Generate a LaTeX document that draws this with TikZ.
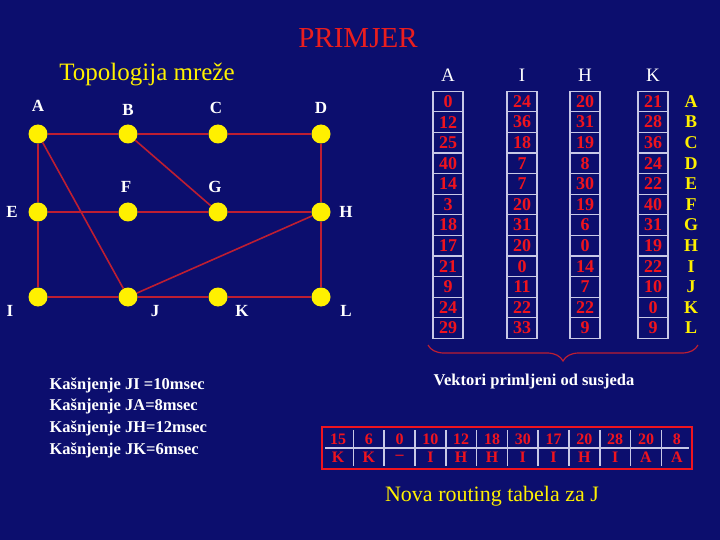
\documentclass[tikz,border=0pt]{standalone}
\usepackage{fontspec}
\setmainfont{Liberation Serif}
\usetikzlibrary{decorations.pathreplacing}
\definecolor{bg}{RGB}{12,14,110}
\definecolor{lnk}{RGB}{190,30,50}
\definecolor{ttl}{RGB}{235,30,30}
\definecolor{yel}{RGB}{255,240,0}
\definecolor{cellc}{RGB}{200,200,230}
\definecolor{num}{RGB}{240,20,30}
\tikzset{
 dot/.style={circle,fill=yel,minimum size=19pt,inner sep=0pt},
 lab/.style={text=white,font=\fontsize{17}{19}\selectfont\bfseries},
 conn/.style={draw=lnk,line width=1.6pt},
 cell/.style={draw=cellc,line width=1.2pt,minimum width=30pt,minimum height=20.6pt,inner sep=0pt,text=num,font=\fontsize{18}{20}\selectfont\bfseries},
 rowl/.style={text=yel,font=\fontsize{18}{20}\selectfont\bfseries},
 hdr/.style={text=white,font=\fontsize{19}{21}\selectfont},
 bcell/.style={minimum width=30.8pt,minimum height=18pt,inner sep=0pt,text=num,font=\fontsize{16}{18}\selectfont\bfseries}
}
\begin{document}
\begin{tikzpicture}[x=1pt,y=-1pt]
\fill[bg] (0,0) rectangle (720,540);
\useasboundingbox (0,0) rectangle (720,540);
\node[text=ttl,font=\fontsize{29}{31}\selectfont] (title) at (358,38) {PRIMJER};
\node[text=yel,font=\fontsize{25}{27}\selectfont] (topo) at (147,75) {Topologija mreže};
% graph
\foreach \n/\x/\y in {A/38/134,B/128/134,C/218/134,D/321/134,E/38/212,F/128/212,G/218/212,H/321/212,I/38/297,J/128/297,K/218/297,L/321/297}
  \node[dot] (\n) at (\x,\y) {};
\foreach \a/\b in {A/B,B/C,C/D,A/E,E/F,F/G,G/H,D/H,E/I,I/J,J/K,K/L,H/L,A/J,B/G,J/H}
  \draw[conn] (\a) -- (\b);
\foreach \n/\x/\y in {A/38/106,B/128/110,C/216/108,D/321/108,F/126/187,G/215/187,E/12/212,H/346/212,I/10/311,J/155/311,K/242/311,L/346/311}
  \node[lab] (l\n) at (\x,\y) {\n};
% headers
\foreach \n/\x in {A/448,I/522,H/585,K/653}
  \node[hdr] (h\n) at (\x,75) {\n};
% table
\foreach \col/\x/\vals in {a/448/{0,12,25,40,14,3,18,17,21,9,24,29},i/522/{24,36,18,7,7,20,31,20,0,11,22,33},h/585/{20,31,19,8,30,19,6,0,14,7,22,9},k/653/{21,28,36,24,22,40,31,19,22,10,0,9}}{
  \foreach \v [count=\r from 0] in \vals
    \node[cell] (c\col\r) at (\x,{101.5+20.6*\r}) {\v};
}
\foreach \n [count=\r from 0] in {A,B,C,D,E,F,G,H,I,J,K,L}
  \node[rowl] (r\n) at (691,{101.5+20.6*\r}) {\n};
\coordinate (bl) at (428,345);
\coordinate (br) at (698,345);
\draw[lnk,line width=1.2pt,decorate,decoration={brace,mirror,amplitude=16pt,aspect=0.5}] (bl) -- (br);
\node[text=white,font=\fontsize{16.5}{18}\selectfont\bfseries] (vek) at (534,382) {Vektori primljeni od susjeda};
% bottom table
\draw[num,line width=2.2pt] (322,427) rectangle (692,469);
\foreach \t/\b [count=\c from 0] in {15/K,6/K,0/--,10/I,12/H,18/H,30/I,17/I,20/H,28/I,20/A,8/A}{
  \node[bcell] (t\c) at ({338+30.8*\c},439) {\t};
  \node[bcell] (b\c) at ({338+30.8*\c},457) {\b};
}
\draw[cellc,line width=1.2pt] (325,448) -- (689,448);
\foreach \c in {1,...,11} \draw[cellc,line width=1.5pt] ({322.6+30.8*\c},430) -- ({322.6+30.8*\c},466);
\node[text=yel,font=\fontsize{22}{24}\selectfont] (nova) at (492,496) {Nova routing tabela za J};
\node[text=white,font=\fontsize{16.5}{21.7}\selectfont\bfseries,align=left,anchor=north west] (lat) at (46,374)
 {Kašnjenje JI =10msec\\Kašnjenje JA=8msec\\Kašnjenje JH=12msec\\Kašnjenje JK=6msec};
\end{tikzpicture}
\end{document}
